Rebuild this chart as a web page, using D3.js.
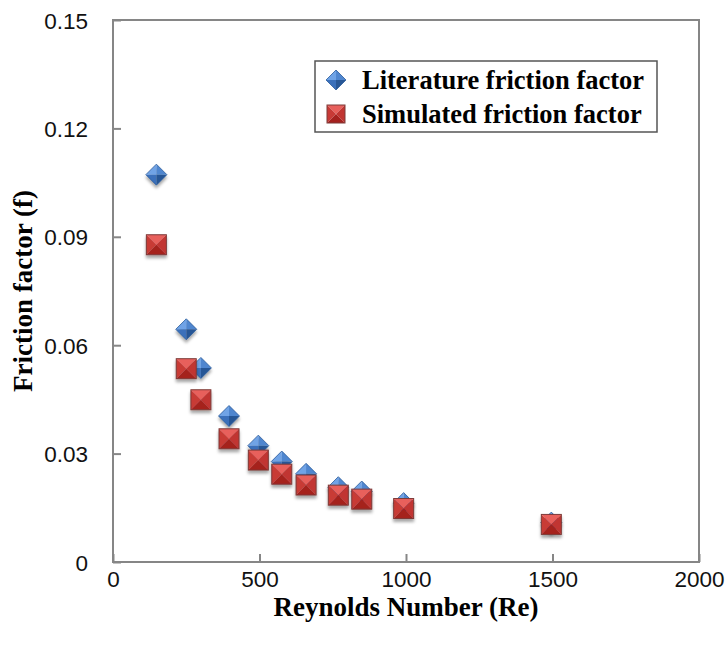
<!DOCTYPE html>
<html>
<head>
<meta charset="utf-8">
<script src="https://cdn.jsdelivr.net/npm/d3@7.9.0/dist/d3.min.js"></script>
<style>
  html, body { margin: 0; padding: 0; background: #fff; }
  svg { display: block; }
  .tick-label { font-family: "Liberation Sans", Arial, sans-serif; font-size: 22.5px; fill: #111; }
  .title { font-family: "Liberation Serif", "Times New Roman", serif; font-weight: bold; font-size: 27px; fill: #000; }
  .legend-text { font-family: "Liberation Serif", "Times New Roman", serif; font-weight: bold; font-size: 26.5px; fill: #000; }
</style>
</head>
<body>
<svg id="chart" width="726" height="648"></svg>
<script>
// data
const reynolds = [148, 250, 300, 396, 496, 576, 659, 769, 849, 992, 1496];
const literatureF = [0.1072, 0.0644, 0.0537, 0.0404, 0.0322, 0.0278, 0.0244, 0.0207, 0.0195, 0.0163, 0.0109];
const simulatedF = [0.0878, 0.0535, 0.0449, 0.0341, 0.0282, 0.0243, 0.0213, 0.0185, 0.0174, 0.0148, 0.0104];
const xTicks = [0, 500, 1000, 1500, 2000];
const yTicks = [0, 0.03, 0.06, 0.09, 0.12, 0.15];
const seriesNames = ["Literature friction factor", "Simulated friction factor"];

const svg = d3.select('#chart');
// plot box edges
const plotL = 113, plotR = 699, plotT = 20, plotB = 562;

const x = d3.scaleLinear().domain([0, 2000]).range([plotL, plotR]);
const y = d3.scaleLinear().domain([0, 0.15]).range([plotB, plotT]);

// drop shadow for the markers
const defs = svg.append('defs');
const shadow = defs.append('filter').attr('id', 'shadow')
  .attr('x', '-50%').attr('y', '-50%').attr('width', '200%').attr('height', '200%');
shadow.append('feDropShadow')
  .attr('dx', 0).attr('dy', 3).attr('stdDeviation', 1.8)
  .attr('flood-color', '#000').attr('flood-opacity', 0.35);

// plot frame
svg.append('rect')
  .attr('x', plotL).attr('y', plotT)
  .attr('width', plotR - plotL).attr('height', plotB - plotT)
  .attr('fill', 'none').attr('stroke', '#868686').attr('stroke-width', 2);

// axes with inward ticks
const xAxis = d3.axisBottom(x).tickValues(xTicks).tickSize(-8).tickFormat(d3.format('d'));
const yAxis = d3.axisLeft(y).tickValues(yTicks).tickSize(-8)
  .tickFormat(d => d === 0 ? '0' : d3.format('.2f')(d));

const gx = svg.append('g').attr('transform', `translate(0,${plotB})`).call(xAxis);
const gy = svg.append('g').attr('transform', `translate(${plotL},0)`).call(yAxis);
[gx, gy].forEach(g => {
  g.select('.domain').remove();
  g.selectAll('line').attr('stroke', '#868686').attr('stroke-width', 2);
  g.selectAll('text').attr('class', 'tick-label').attr('fill', null);
});
gx.selectAll('text').attr('y', 25).attr('dy', 0);
gy.selectAll('text').attr('x', -25).attr('dy', '0.36em');

// axis titles
svg.append('text').attr('class', 'title')
  .attr('x', (plotL + plotR) / 2).attr('y', 616)
  .attr('text-anchor', 'middle')
  .text('Reynolds Number (Re)');

svg.append('text').attr('class', 'title')
  .attr('transform', `translate(32,${(plotT + plotB) / 2}) rotate(-90)`)
  .attr('text-anchor', 'middle')
  .text('Friction factor (f)');

// marker faces (pyramid look like the old excel markers)
function diamond(g, r) {
  g.append('path').attr('d', `M0,${-r}L${-r},0L0,0Z`).attr('fill', '#6fa3e6');
  g.append('path').attr('d', `M0,${-r}L${r},0L0,0Z`).attr('fill', '#4f86cf');
  g.append('path').attr('d', `M${-r},0L0,${r}L0,0Z`).attr('fill', '#3a70bb');
  g.append('path').attr('d', `M${r},0L0,${r}L0,0Z`).attr('fill', '#285796');
  g.append('path').attr('d', `M0,${-r}L${r},0L0,${r}L${-r},0Z`)
    .attr('fill', 'none').attr('stroke', '#2a5a9a').attr('stroke-width', 0.8);
}
function square(g, r) {
  g.append('path').attr('d', `M${-r},${-r}L${r},${-r}L0,0Z`).attr('fill', '#e8605c');
  g.append('path').attr('d', `M${-r},${-r}L${-r},${r}L0,0Z`).attr('fill', '#c83a36');
  g.append('path').attr('d', `M${r},${-r}L${r},${r}L0,0Z`).attr('fill', '#c13531');
  g.append('path').attr('d', `M${-r},${r}L${r},${r}L0,0Z`).attr('fill', '#a5211e');
  g.append('rect').attr('x', -r).attr('y', -r).attr('width', 2 * r).attr('height', 2 * r)
    .attr('fill', 'none').attr('stroke', '#7d3a38').attr('stroke-width', 1);
}

const litData = reynolds.map((re, i) => ({ re, f: literatureF[i] }));
const simData = reynolds.map((re, i) => ({ re, f: simulatedF[i] }));

svg.append('g').selectAll('g').data(litData).join('g')
  .attr('transform', d => `translate(${x(d.re)},${y(d.f)})`)
  .attr('filter', 'url(#shadow)')
  .each(function () { diamond(d3.select(this), 10.5); });

svg.append('g').selectAll('g').data(simData).join('g')
  .attr('transform', d => `translate(${x(d.re)},${y(d.f)})`)
  .attr('filter', 'url(#shadow)')
  .each(function () { square(d3.select(this), 10); });

// legend
const legend = svg.append('g');
legend.append('rect')
  .attr('x', 315).attr('y', 61).attr('width', 342).attr('height', 71)
  .attr('fill', '#fff').attr('stroke', '#555').attr('stroke-width', 1.5);

const rowY = [80, 114];
seriesNames.forEach((name, i) => {
  const mark = legend.append('g').attr('transform', `translate(336,${rowY[i]})`);
  if (i === 0) diamond(mark, 10); else square(mark, 9);
  legend.append('text').attr('class', 'legend-text')
    .attr('x', 362).attr('y', rowY[i] + 9)
    .text(name);
});
</script>
</body>
</html>
